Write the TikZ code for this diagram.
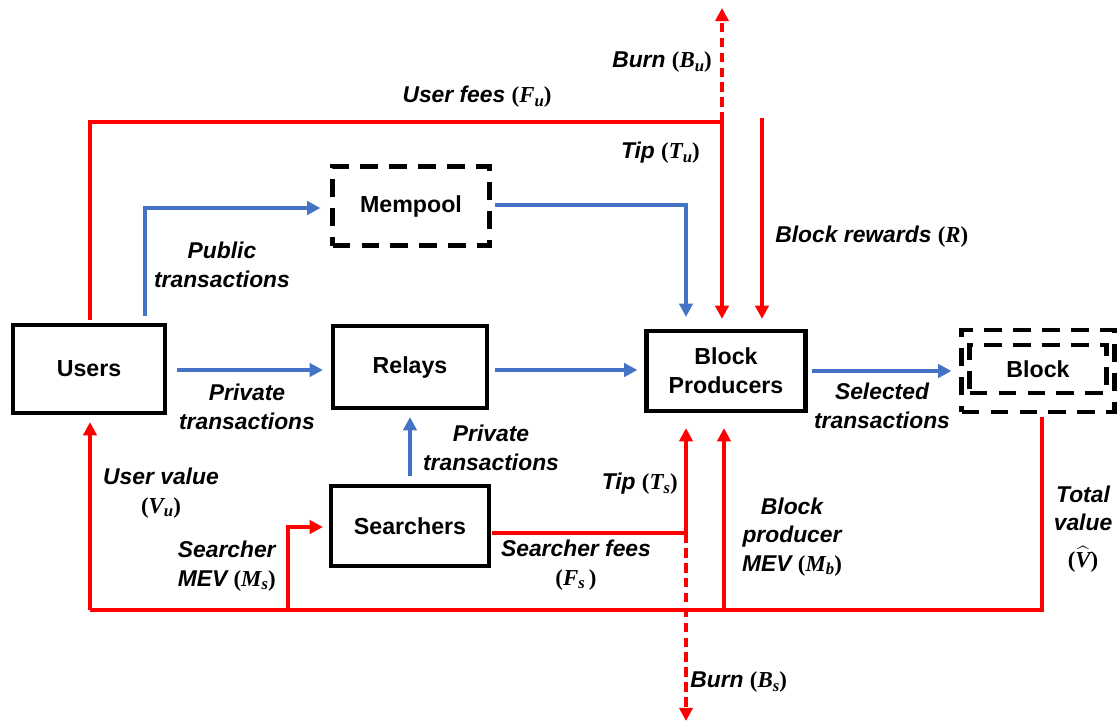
\documentclass[tikz,border=0pt]{standalone}
\usepackage{amsmath}
\usepackage{fontspec}
\setmainfont{Liberation Sans}
\newfontfamily\mfont{Liberation Serif}
\usetikzlibrary{arrows.meta,calc}
\definecolor{myblue}{RGB}{68,114,196}
\definecolor{myred}{RGB}{255,0,0}
\newcommand\mvsub[1]{\raisebox{-0.35ex}{\fontsize{9.5}{10}\selectfont\mfont\bfseries\itshape #1}}
\newcommand\mvar[2]{{\mfont\bfseries\upshape(\itshape #1\mvsub{#2}\upshape)}}
\tikzset{
  box/.style={draw=black, line width=2.4pt, inner sep=0pt, align=center, font=\bfseries\fontsize{13.2}{16.5}\selectfont},
  dbox/.style={box, dash pattern=on 10pt off 6.5pt},
  lab/.style={inner sep=0pt, font=\bfseries\itshape\fontsize{13}{16.2}\selectfont},
  bluearr/.style={draw=myblue, line width=2.2pt, -{Triangle[length=7.5pt,width=7.5pt]}},
  redarr/.style={draw=myred, line width=2.3pt, -{Triangle[length=7.5pt,width=7.5pt]}},
  redline/.style={draw=myred, line width=2.3pt},
  reddash/.style={draw=myred, line width=2.3pt, dash pattern=on 5.5pt off 3pt, -{Triangle[length=7.5pt,width=7.5pt]}}
}
\begin{document}
\begin{tikzpicture}[x=0.02cm, y=-0.02cm]
\useasboundingbox (0,0) rectangle (1119,725);
% nodes
\node[box, minimum width=3.04cm, minimum height=1.76cm] (users) at (89,369) {Users};
\node[dbox, minimum width=3.14cm, minimum height=1.58cm] (mempool) at (411,206) {Mempool};
\node[box, minimum width=3.08cm, minimum height=1.64cm] (relays) at (410,367) {Relays};
\node[box, minimum width=3.18cm, minimum height=1.6cm] (bp) at (726,371) {Block\\Producers};
\node[box, minimum width=3.16cm, minimum height=1.6cm] (searchers) at (410,526) {Searchers};
\node[dbox, minimum width=3.06cm, minimum height=1.64cm] (blockouter) at (1038,371) {};
\node[dbox, minimum width=2.74cm, minimum height=0.96cm] (block) at (1038,369) {Block};
% coordinates
\coordinate (fu) at (722,122);
\coordinate (burnu) at (722,8);
\coordinate (rtop) at (762,118);
\coordinate (fs) at (686,533);
\coordinate (burns) at (686,721);
\coordinate (bl) at (90,610);
\coordinate (ms) at (288,610);
\coordinate (mb) at (724,610);
% blue connectors
\draw[bluearr] ($(users.north)+(56,-7)$) |- ($(mempool.west)+(-10,2)$);
\draw[bluearr] ($(mempool.east)+(3,-1)$) -| ($(bp.north)+(-40,-12)$);
\draw[bluearr] ($(users.east)+(10,1)$) -- ($(relays.west)+(-8,3)$);
\draw[bluearr] ($(relays.east)+(6,3)$) -- ($(bp.west)+(-7,-1)$);
\draw[bluearr] ($(searchers.north)+(0,-8)$) -- ($(relays.south)+(0,7)$);
\draw[bluearr] ($(bp.east)+(4,0)$) -- ($(blockouter.west)+(-8,0)$);
% red connectors
\draw[redline] ($(users.north)+(1,-3)$) |- (fu);
\draw[redarr] (fu) -- ($(bp.north)+(-4,-10)$);
\draw[reddash] (fu) -- (burnu);
\draw[redarr] (rtop) -- ($(bp.north)+(36,-10)$);
\draw[redline] ($(searchers.east)+(1,7)$) -- (fs);
\draw[redarr] (fs) -- ($(bp.south)+(-40,15)$);
\draw[reddash] (fs) -- (burns);
\draw[redline] ($(blockouter.south)+(4,3)$) |- (bl);
\draw[redarr] (bl) -- ($(users.south)+(1,7)$);
\draw[redarr] (ms) |- ($(searchers.west)+(-6,1)$);
\draw[redarr] (mb) -- ($(bp.south)+(-2,15)$);
% labels
\node[lab] (lfu) at (477,97) {User fees \mvar{F}{u}};
\node[lab, anchor=east] (lbu) at (712,62) {Burn \mvar{B}{u}};
\node[lab, anchor=east] (ltu) at (700,153) {Tip \mvar{T}{u}};
\node[lab, anchor=west] (lr) at (775,237) {Block rewards \mvar{R}{}};
\node[lab, align=center] (lpub) at (222,265) {Public\\transactions};
\node[lab, align=center] (lpriv1) at (247,407) {Private\\transactions};
\node[lab, align=center] (lpriv2) at (491,448) {Private\\transactions};
\node[lab, align=center] (lsel) at (882,406) {Selected\\transactions};
\node[lab, align=center] (luv) at (161,493) {User value\\\mvar{V}{u}};
\node[lab, anchor=east, align=right] (lms) at (276,566) {Searcher\\MEV \mvar{M}{s}};
\node[lab, anchor=east] (lts) at (678,484) {Tip \mvar{T}{s}};
\node[lab, align=center] (lfs) at (576,565) {Searcher fees\\\mvar{F}{s\ }};
\node[lab, align=center] (lmb) at (792,537) {Block\\producer\\MEV \mvar{M}{b}};
\node[lab, align=center] (ltv) at (1083,529) {Total\\value\\[5pt]{\mfont\bfseries\upshape(}$\widehat{\mbox{\mfont\bfseries\itshape V}}${\mfont\bfseries\upshape)}};
\node[lab, anchor=west] (lbs) at (690,682) {Burn \mvar{B}{s}};
\end{tikzpicture}
\end{document}
